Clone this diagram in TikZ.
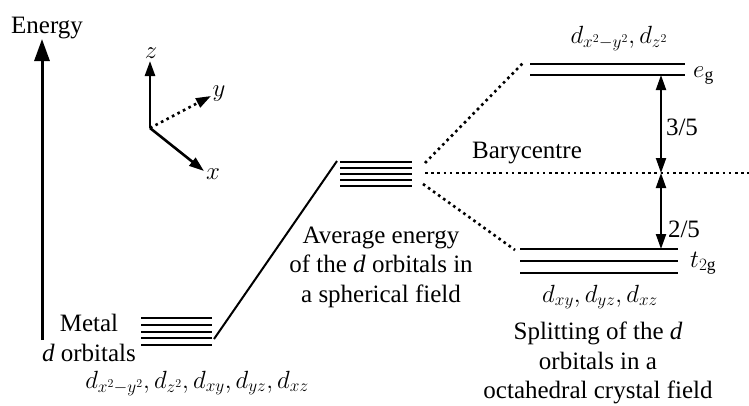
\documentclass[tikz,border=0pt]{standalone}
\usepackage{fontspec}
\setmainfont{Liberation Serif}
\usetikzlibrary{arrows.meta,positioning}

\begin{document}
\begin{tikzpicture}[
    x=1pt, y=-1pt,
    font=\fontsize{25}{29.5}\selectfont,
    label/.style={inner sep=0pt, align=center},
    baselabel/.style={inner sep=0pt, anchor=base},
    level/.style={line width=2.8pt},
    link/.style={line width=2pt},
    guide/.style={line width=2.6pt, dash pattern=on 2.6pt off 3.6pt},
    axis/.style={line width=2.6pt, -{Triangle[length=15pt,width=10pt]}},
    gap/.style={line width=2pt, {Triangle[length=15pt,width=10pt]}-{Triangle[length=15pt,width=10pt]}}
  ]
    \useasboundingbox (0,0) rectangle (749,405);

    \node[baselabel] (energy) at (47,33) {Energy};
    \coordinate (ebase) at (42,340);
    \coordinate (etop) at (42,39);
    \draw[line width=3pt, -{Triangle[length=22pt,width=15pt]}] (ebase) -- (etop);

    \coordinate (origin) at (150,128);
    \coordinate (ztip) at (150,61);
    \coordinate (ytip) at (211,96);
    \coordinate (xtip) at (204,171);
    \node[label] (zlab) at (151,53) {$z$};
    \node[label] (ylab) at (219,94) {$y$};
    \node[label] (xlab) at (213,174) {$x$};
    \draw[axis] (origin) -- (ztip);
    \draw[axis] (origin) -- (xtip);
    \draw[axis, dash pattern=on 2.6pt off 3.6pt] (origin) -- (ytip);

    \foreach \y in {318,325,332,338,345}
      \draw[level] (141,\y) -- (212,\y);
    \foreach \y in {162,168,174,180,186}
      \draw[level] (340,\y) -- (412,\y);
    \foreach \y in {64,75}
      \draw[level] (530,\y) -- (685,\y);
    \foreach \y in {249,261,273}
      \draw[level] (520,\y) -- (678,\y);

    \coordinate (freeR) at (214,339);
    \coordinate (avgL) at (337,161);
    \coordinate (avgR1) at (425,163);
    \coordinate (avgR2) at (425,173);
    \coordinate (avgR3) at (423,184);
    \coordinate (egL) at (523,63);
    \coordinate (baryR) at (749,173);
    \coordinate (t2L) at (515,250);
    \coordinate (egbot) at (661,75);
    \coordinate (bary) at (661,173);
    \coordinate (t2top) at (661,249);

    \draw[link] (freeR) -- (avgL);
    \draw[guide] (avgR1) -- (egL);
    \draw[guide] (avgR2) -- (baryR);
    \draw[guide] (avgR3) -- (t2L);
    \draw[gap] (egbot) -- (bary);
    \draw[gap] (bary) -- (t2top);

    \node[label] (metal) at (89,338) {Metal\\\textit{d} orbitals};
    \node[baselabel] (freeset) at (197,388) {$d_{x^2-y^2}, d_{z^2}, d_{xy}, d_{yz}, d_{xz}$};
    \node[label] (avgtext) at (381,267)
      {Average energy\\of the \textit{d} orbitals in\\a spherical field};
    \node[baselabel] (bartext) at (527,158) {Barycentre};
    \node[baselabel] (egset) at (619,43) {$d_{x^2-y^2}, d_{z^2}$};
    \node[baselabel, anchor=base west] (eglab) at (693,77) {$e_{\mathrm{g}}$};
    \node[baselabel, anchor=base west] (tlab) at (690,267) {$t_{2\mathrm{g}}$};
    \node[baselabel] (upper) at (682,135) {3/5};
    \node[baselabel] (lower) at (684,237) {2/5};
    \node[baselabel] (tset) at (600,302) {$d_{xy}, d_{yz}, d_{xz}$};
    \node[label] (splittext) at (598,363)
      {Splitting of the \textit{d}\\orbitals in a\\octahedral crystal field};
  \end{tikzpicture}
\end{document}
